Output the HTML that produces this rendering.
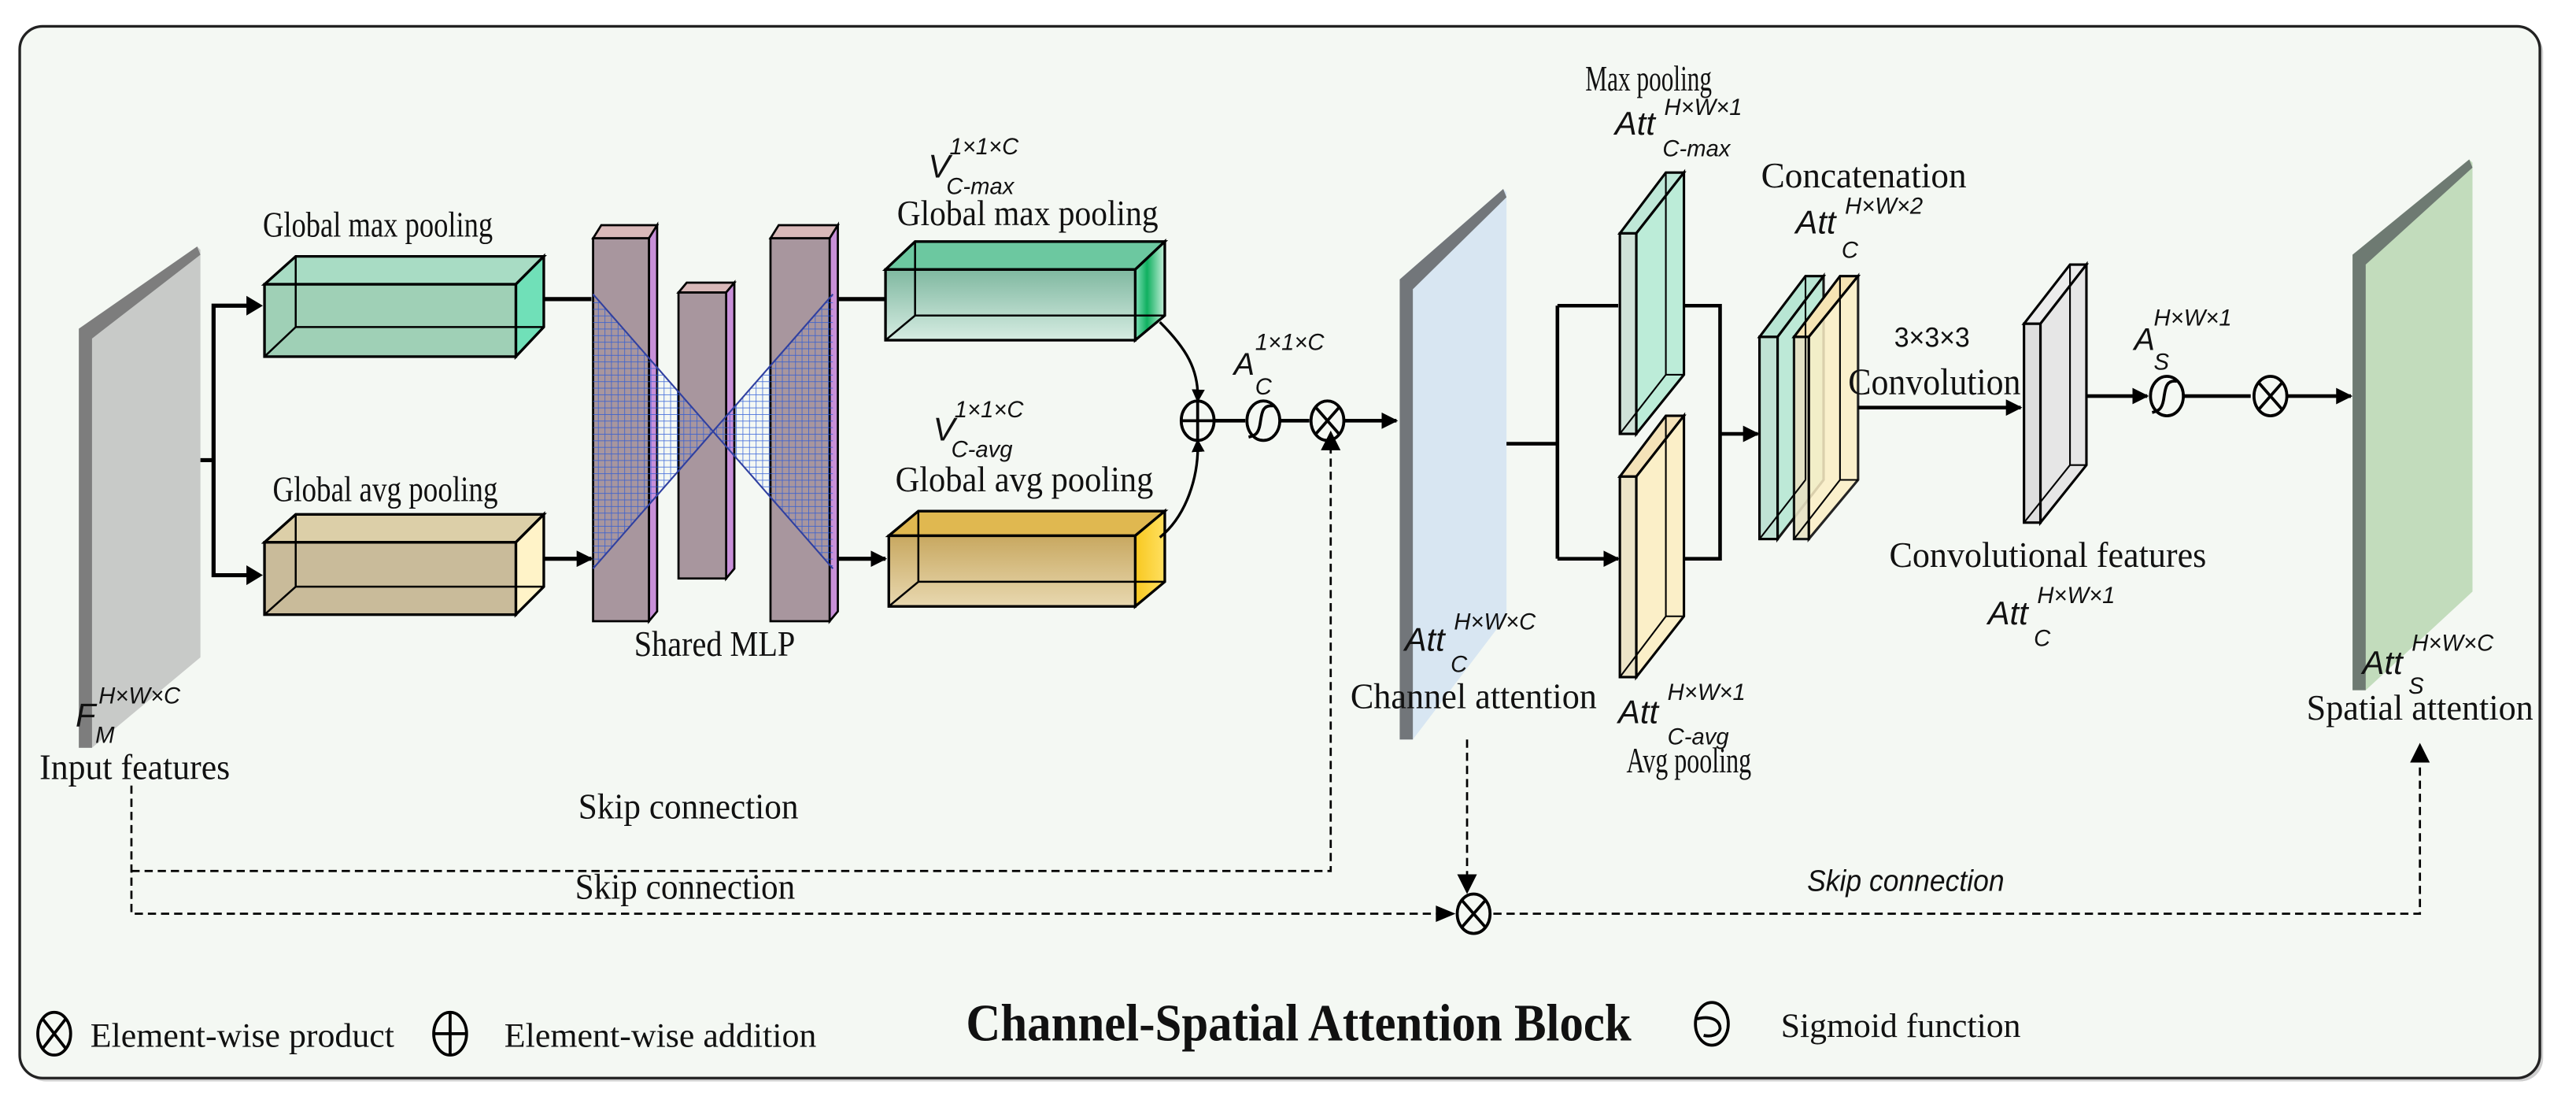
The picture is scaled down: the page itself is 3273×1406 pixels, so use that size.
<!DOCTYPE html>
<html><head><meta charset="utf-8"><style>
html,body{margin:0;padding:0;background:#fff;}
svg{display:block;}
.s{font-family:"Liberation Serif",serif;fill:#111;}
.i{font-family:"Liberation Sans",sans-serif;font-style:italic;fill:#111;}
</style></head><body>
<svg width="3273" height="1406" viewBox="0 0 1568 673.6" preserveAspectRatio="none" xmlns="http://www.w3.org/2000/svg">
<defs>
<marker id="a" markerWidth="10" markerHeight="10" refX="9" refY="5" orient="auto" markerUnits="userSpaceOnUse"><path d="M0,0 L10,5 L0,10 Z" fill="#000"/></marker>
<marker id="b" markerWidth="8" markerHeight="8" refX="7" refY="4" orient="auto" markerUnits="userSpaceOnUse"><path d="M0,0 L8,4 L0,8 Z" fill="#000"/></marker>
<pattern id="g" width="4" height="4" patternUnits="userSpaceOnUse"><path d="M0,0 H4 M0,0 V4" stroke="#2a5ad8" stroke-width="0.8" fill="none"/></pattern>
<linearGradient id="gr" x1="0" x2="1"><stop offset="0" stop-color="#7fe0b8"/><stop offset="0.4" stop-color="#10b060"/><stop offset="1" stop-color="#c8f0dc"/></linearGradient>
<linearGradient id="yr" x1="0" x2="1"><stop offset="0" stop-color="#f8c820"/><stop offset="1" stop-color="#ffe060"/></linearGradient>
<linearGradient id="gf" x1="0" y1="0" x2="0" y2="1"><stop offset="0" stop-color="#7fb8a0"/><stop offset="1" stop-color="#d6ece2"/></linearGradient>
<linearGradient id="yf" x1="0" y1="0" x2="0" y2="1"><stop offset="0" stop-color="#c8a860"/><stop offset="1" stop-color="#e8d8b0"/></linearGradient>
</defs>
<rect x="14" y="18" width="1534" height="640" rx="14" fill="#cfcfcf"/>
<rect x="12" y="16" width="1534" height="640" rx="14" fill="#f4f8f3" stroke="#222" stroke-width="1.6"/>

<polygon points="48,200 120,150 122,152 122,400 56,455 48,455" fill="#c8cac8"/>
<polygon points="48,200 120,150 122,155 56,206 56,455 48,455" fill="#7d7d7d"/>
<path d="M122,280 H130 V186 H158 M130,280 V350 H158" stroke="#000" stroke-width="2.5" fill="none"/>
<path d="M150,180 L160,186 L150,192Z M150,344 L160,350 L150,356Z" fill="#000"/>

<g stroke="#000" stroke-width="1.6">
<polygon points="161,173 180,156 331,156 314,173" fill="#a8dcc4"/>
<polygon points="314,173 331,156 331,199 314,217" fill="#70e0b8"/>
<rect x="161" y="173" width="153" height="44" fill="#9fd0b6"/>
<path d="M180,156 V199 H331 M161,217 L180,199" fill="none" stroke-width="1.2"/>
</g>
<g stroke="#000" stroke-width="1.6">
<polygon points="161,330 180,313 331,313 314,330" fill="#dccfa8"/>
<polygon points="314,330 331,313 331,357 314,374" fill="#fff3c8"/>
<rect x="161" y="330" width="153" height="44" fill="#c9bb9a"/>
<path d="M180,313 V357 H331 M161,374 L180,357" fill="none" stroke-width="1.2"/>
</g>
<path d="M331,182 H360 M331,340 H360" stroke="#000" stroke-width="2.5" marker-end="url(#a)"/>

<g stroke="#000" stroke-width="1.3">
<polygon points="361,145 366,137 400,137 395,145" fill="#d9b9b9"/><polygon points="395,145 400,137 400,372 395,378" fill="#c890d8"/><rect x="361" y="145" width="34" height="233" fill="#a8969e"/>
<polygon points="413,178 418,172 447,172 442,178" fill="#d9b9b9"/><polygon points="442,178 447,172 447,346 442,352" fill="#c890d8"/><rect x="413" y="178" width="29" height="174" fill="#a8969e"/>
<polygon points="469,145 474,137 510,137 505,145" fill="#d9b9b9"/><polygon points="505,145 510,137 510,372 505,378" fill="#c890d8"/><rect x="469" y="145" width="36" height="233" fill="#a8969e"/>
</g>
<polygon points="361,179 361,346 434,262" fill="url(#g)" opacity="0.85"/>
<polygon points="507,179 507,346 434,262" fill="url(#g)" opacity="0.85"/>
<path d="M361,179 L507,346 M361,346 L507,179" stroke="#3040a0" stroke-width="1"/>
<path d="M510,182 H539 M510,340 H539" stroke="#000" stroke-width="2.5" marker-end="url(#a)"/>

<g stroke="#000" stroke-width="1.6">
<polygon points="539,164 557,147 709,147 691,164" fill="#6cc8a0"/>
<polygon points="691,164 709,147 709,192 691,207" fill="url(#gr)"/>
<rect x="539" y="164" width="152" height="43" fill="url(#gf)"/>
<path d="M557,147 V192 H709 M539,207 L557,192" fill="none" stroke-width="1.2"/>
</g>
<g stroke="#000" stroke-width="1.6">
<polygon points="541,326 559,311 709,311 691,326" fill="#e0b850"/>
<polygon points="691,326 709,311 709,354 691,369" fill="url(#yr)"/>
<rect x="541" y="326" width="150" height="43" fill="url(#yf)"/>
<path d="M559,311 V354 H709 M541,369 L559,354" fill="none" stroke-width="1.2"/>
</g>
<path d="M706,196 C722,212 730,225 729,244" stroke="#000" stroke-width="1.6" fill="none" marker-end="url(#b)"/>
<path d="M706,327 C722,314 730,290 729,268" stroke="#000" stroke-width="1.6" fill="none" marker-end="url(#b)"/>

<g stroke="#000" stroke-width="1.8" fill="#f4f8f3">
<ellipse cx="729" cy="256" rx="10" ry="12"/><path d="M719,256 H739 M729,244 V268"/>
<ellipse cx="769" cy="256" rx="10" ry="12"/><path d="M775,247 C768,246 768,252 767,258 C766,264 764,265 760,266" fill="none"/>
<ellipse cx="808" cy="256" rx="10" ry="12"/><path d="M801,248 L815,264 M815,248 L801,264"/>
</g>
<path d="M739,256 H758 M779,256 H797 M818,256 H850" stroke="#000" stroke-width="2.2" marker-end="url(#a)"/>
<text class="i" x="751" y="228" font-size="19">A</text><text class="i" x="764" y="213" font-size="14">1×1×C</text><text class="i" x="764" y="240" font-size="14">C</text>

<polygon points="852,170 915,115 917,117 917,375 860,450 852,450" fill="#d8e6f2"/>
<polygon points="852,170 915,115 917,120 860,176 860,450 852,450" fill="#72767a"/>

<path d="M917,270 H948 M948,186 V340" stroke="#000" stroke-width="2.2" fill="none"/>
<path d="M948,186 H985 M948,340 H985" stroke="#000" stroke-width="2.2" marker-end="url(#a)"/>
<g stroke="#000" stroke-width="1.5">
<polygon points="986,142 1014,105 1025,105 996,142" fill="#bfe8d8"/>
<polygon points="996,142 1025,105 1025,228 996,264" fill="#bcecd8"/>
<rect x="986" y="142" width="10" height="122" fill="#cfe2d8"/>
<path d="M1014,105 V228 H1025 M986,264 L1014,228" fill="none" stroke-width="1"/>
</g>
<g stroke="#000" stroke-width="1.5">
<polygon points="986,290 1014,253 1025,253 996,290" fill="#f4e2b8"/>
<polygon points="996,290 1025,253 1025,375 996,412" fill="#fbefc8"/>
<rect x="986" y="290" width="10" height="122" fill="#ece4c8"/>
<path d="M1014,253 V375 H1025 M986,412 L1014,375" fill="none" stroke-width="1"/>
</g>
<path d="M1025,186 H1047 V340 H1025" stroke="#000" stroke-width="2.2" fill="none"/>
<path d="M1047,264 H1070" stroke="#000" stroke-width="2.2" marker-end="url(#a)"/>
<g stroke="#000" stroke-width="1.5">
<polygon points="1071,205 1099,168 1110,168 1082,205" fill="#b8e6d4"/>
<polygon points="1082,205 1110,168 1110,292 1082,328" fill="#b8e8d4" opacity="0.9"/>
<rect x="1071" y="205" width="11" height="123" fill="#bfe2d4"/>
<polygon points="1092,205 1120,168 1131,168 1101,205" fill="#f6e4b4"/>
<polygon points="1101,205 1131,168 1131,292 1101,328" fill="#fcefc6" opacity="0.85"/>
<rect x="1092" y="205" width="9" height="123" fill="#e8e2c4" opacity="0.9"/>
<path d="M1120,168 V292 H1131 M1092,328 L1120,292 M1099,168 V292 M1071,328 L1099,292" fill="none" stroke-width="1"/>
</g>
<path d="M1131,248 H1230" stroke="#000" stroke-width="2.2" marker-end="url(#a)"/>
<text x="1153" y="211" font-family="Liberation Sans,sans-serif" font-size="17" textLength="46" lengthAdjust="spacingAndGlyphs" fill="#111">3×3×3</text>
<text class="s" x="1125" y="240" font-size="23" textLength="105" lengthAdjust="spacingAndGlyphs">Convolution</text>
<g stroke="#000" stroke-width="1.5">
<polygon points="1232,197 1260,161 1270,161 1242,197" fill="#ececec"/>
<polygon points="1242,197 1270,161 1270,283 1242,318" fill="#e6e6e6"/>
<rect x="1232" y="197" width="10" height="121" fill="#dedede"/>
<path d="M1260,161 V283 H1270 M1232,318 L1260,283" fill="none" stroke-width="1"/>
</g>
<path d="M1270,241 H1307" stroke="#000" stroke-width="2.2" marker-end="url(#a)"/>
<g stroke="#000" stroke-width="1.8" fill="#f4f8f3">
<ellipse cx="1319" cy="241" rx="10" ry="12"/><path d="M1325,232 C1318,231 1318,237 1317,243 C1316,249 1314,250 1310,251" fill="none"/>
<ellipse cx="1382" cy="241" rx="10" ry="12"/><path d="M1375,233 L1389,249 M1389,233 L1375,249"/>
</g>
<path d="M1329,241 H1370 M1392,241 H1431" stroke="#000" stroke-width="2.2" marker-end="url(#a)"/>
<text class="i" x="1299" y="213" font-size="19">A</text><text class="i" x="1311" y="198" font-size="14">H×W×1</text><text class="i" x="1311" y="225" font-size="14">S</text>
<polygon points="1432,155 1503,97 1505,99 1505,360 1440,420 1432,420" fill="#c2dcbc"/>
<polygon points="1432,155 1503,97 1505,102 1440,161 1440,420 1432,420" fill="#6e7a72"/>

<g stroke="#000" stroke-width="1.3" stroke-dasharray="5,3" fill="none">
<path d="M80,478 V556 H882"/>
<path d="M80,530 H810 V272"/>
<path d="M893,450 V540"/>
<path d="M909,556 H1473 V462"/>
</g>
<path d="M804,274 L810,262 L816,274Z M887,532 L893,544 L899,532Z M874,551 L886,556 L874,561Z M1467,464 L1473,452 L1479,464Z" fill="#000"/>
<g stroke="#000" stroke-width="1.8" fill="#f4f8f3"><ellipse cx="897" cy="556" rx="10" ry="12"/><path d="M890,548 L904,564 M904,548 L890,564"/></g>

<g class="s" font-size="22">
<text x="160" y="144" textLength="140" lengthAdjust="spacingAndGlyphs">Global max pooling</text>
<text x="166" y="305" textLength="137" lengthAdjust="spacingAndGlyphs">Global avg pooling</text>
<text x="386" y="399" textLength="98" lengthAdjust="spacingAndGlyphs">Shared MLP</text>
<text x="546" y="137" textLength="159" lengthAdjust="spacingAndGlyphs">Global max pooling</text>
<text x="545" y="299" textLength="157" lengthAdjust="spacingAndGlyphs">Global avg pooling</text>
<text x="965" y="55" textLength="77" lengthAdjust="spacingAndGlyphs">Max pooling</text>
<text x="1072" y="114" textLength="125" lengthAdjust="spacingAndGlyphs">Concatenation</text>
<text x="1150" y="345" textLength="193" lengthAdjust="spacingAndGlyphs">Convolutional features</text>
<text x="822" y="431" textLength="150" lengthAdjust="spacingAndGlyphs">Channel attention</text>
<text x="990" y="470" textLength="76" lengthAdjust="spacingAndGlyphs">Avg pooling</text>
<text x="1404" y="438" textLength="138" lengthAdjust="spacingAndGlyphs">Spatial attention</text>
<text x="24" y="474" textLength="116" lengthAdjust="spacingAndGlyphs">Input features</text>
<text x="352" y="498" textLength="134" lengthAdjust="spacingAndGlyphs">Skip connection</text>
<text x="350" y="547" textLength="134" lengthAdjust="spacingAndGlyphs">Skip connection</text>
<text x="55" y="637" font-size="21" textLength="185" lengthAdjust="spacingAndGlyphs">Element-wise product</text>
<text x="307" y="637" font-size="21" textLength="190" lengthAdjust="spacingAndGlyphs">Element-wise addition</text>
<text x="1084" y="631" font-size="21" textLength="146" lengthAdjust="spacingAndGlyphs">Sigmoid function</text>
<text x="588" y="633" font-size="32" font-weight="bold" textLength="405" lengthAdjust="spacingAndGlyphs">Channel-Spatial Attention Block</text>
</g>
<text class="i" x="1100" y="542" font-size="18" textLength="120" lengthAdjust="spacingAndGlyphs">Skip connection</text>
<g class="i">
<text x="565" y="108" font-size="20">V</text><text x="578" y="94" font-size="14">1×1×C</text><text x="576" y="118" font-size="14">C-max</text>
<text x="568" y="268" font-size="20">V</text><text x="581" y="254" font-size="14">1×1×C</text><text x="579" y="278" font-size="14">C-avg</text>
<text x="983" y="82" font-size="20">Att</text><text x="1013" y="70" font-size="14">H×W×1</text><text x="1012" y="95" font-size="14">C-max</text>
<text x="1093" y="142" font-size="20">Att</text><text x="1123" y="130" font-size="14">H×W×2</text><text x="1121" y="157" font-size="14">C</text>
<text x="1210" y="380" font-size="20">Att</text><text x="1240" y="367" font-size="14">H×W×1</text><text x="1238" y="393" font-size="14">C</text>
<text x="855" y="396" font-size="20">Att</text><text x="885" y="383" font-size="14">H×W×C</text><text x="883" y="409" font-size="14">C</text>
<text x="985" y="440" font-size="20">Att</text><text x="1015" y="426" font-size="14">H×W×1</text><text x="1015" y="453" font-size="14">C-avg</text>
<text x="1438" y="410" font-size="20">Att</text><text x="1468" y="396" font-size="14">H×W×C</text><text x="1466" y="422" font-size="14">S</text>
<text x="46" y="442" font-size="20">F</text><text x="60" y="428" font-size="14">H×W×C</text><text x="58" y="452" font-size="14">M</text>
</g>

<g stroke="#000" stroke-width="1.8" fill="none">
<ellipse cx="33" cy="629" rx="10" ry="13"/><path d="M26,620 L40,638 M40,620 L26,638"/>
<ellipse cx="274" cy="629" rx="10" ry="13"/><path d="M264,629 H284 M274,616 V642"/>
<ellipse cx="1042" cy="623" rx="10" ry="13"/><path d="M1033,620 C1040,618 1047,620 1047,626 C1046,630 1041,631 1037,630" fill="none"/>
</g>
</svg>
</body></html>
